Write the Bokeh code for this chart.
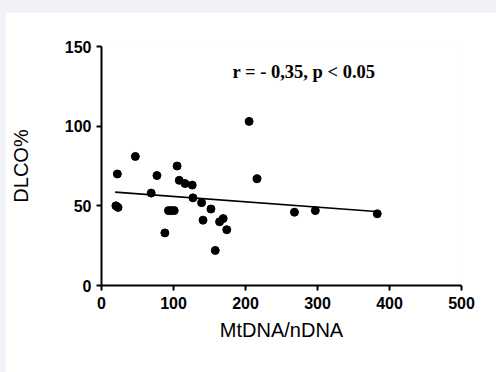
from bokeh.plotting import figure
from bokeh.models import Range1d, FixedTicker, Label
from bokeh.embed import file_html
from bokeh.resources import INLINE

# Data
mtdna = [22, 20, 23, 47, 69, 77, 88, 93, 97, 101, 105, 108, 116, 126, 127,
         139, 141, 152, 158, 164, 169, 174, 205, 216, 268, 297, 383]
dlco = [70, 50, 49, 81, 58, 69, 33, 47, 47, 47, 75, 66, 64, 63, 55,
        52, 41, 48, 22, 40, 42, 35, 103, 67, 46, 47, 45]

fit_x = [19, 386]
fit_y = [58.6, 46.3]

x_ticks = [0, 100, 200, 300, 400, 500]
y_ticks = [0, 50, 100, 150]
annotation = "r = - 0,35, p < 0.05"

p = figure(width=491, height=360, output_backend="svg", toolbar_location=None,
           x_range=Range1d(0, 500), y_range=Range1d(0, 150),
           min_border_left=96, min_border_right=35, min_border_top=34,
           min_border_bottom=87)
p.margin = (12, 0, 0, 5)
p.background_fill_color = "white"
p.border_fill_color = "white"
p.outline_line_color = None
p.grid.visible = False

p.line(fit_x, fit_y, line_color="black", line_width=1.6)
p.scatter(mtdna, dlco, size=8, color="black")

for ax in (p.xaxis[0], p.yaxis[0]):
    ax.axis_line_width = 2
    ax.axis_line_color = "black"
    ax.major_tick_line_width = 2
    ax.major_tick_line_color = "black"
    ax.major_tick_out = 5
    ax.major_tick_in = 0
    ax.minor_tick_line_color = None
    ax.major_label_text_font = "Liberation Sans"
    ax.major_label_text_font_style = "bold"
    ax.major_label_text_font_size = "16px"
    ax.major_label_text_color = "black"
    ax.axis_label_text_font = "Liberation Sans"
    ax.axis_label_text_font_style = "normal"
    ax.axis_label_text_font_size = "20px"
    ax.axis_label_text_color = "black"

p.xaxis.ticker = FixedTicker(ticks=x_ticks)
p.yaxis.ticker = FixedTicker(ticks=y_ticks)
p.xaxis.axis_label = "MtDNA/nDNA"
p.yaxis.axis_label = "DLCO%"
p.xaxis.major_label_standoff = 6
p.yaxis.major_label_standoff = 5
p.xaxis.axis_label_standoff = 7
p.yaxis.axis_label_standoff = 30

p.add_layout(Label(x=182, y=134, text=annotation, text_font="Liberation Serif",
                   text_font_style="bold", text_font_size="18.5px",
                   text_color="black", text_baseline="alphabetic"))

html = file_html(p, INLINE)
html = html.replace("<head>", "<head><style>body{background:#f0f2f7;}</style>", 1)
open("out.html", "w").write(html)
